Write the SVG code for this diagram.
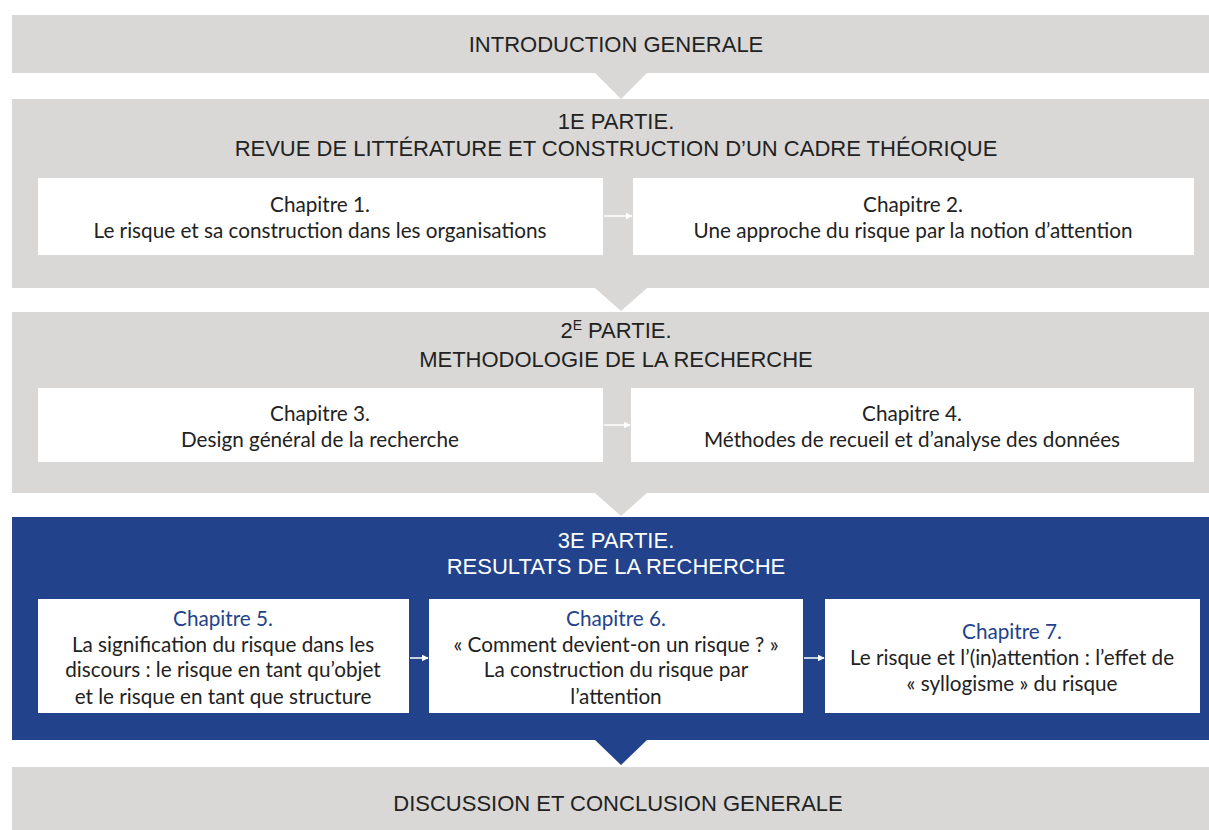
<svg xmlns="http://www.w3.org/2000/svg" width="1209" height="830" viewBox="0 0 1209 830">
<defs>
<style>
.band{fill:#d9d8d6}
.blue{fill:#22438b}
.box{fill:#ffffff}
.t{font-family:Lato,"Open Sans","Liberation Sans",sans-serif;font-size:20.7px;fill:#222;text-anchor:middle}
.h{font-family:"Liberation Sans",Arial,sans-serif;font-size:22px;fill:#222;text-anchor:middle}
.hw{fill:#ffffff}
.ct{fill:#22438b}
.conn{stroke:#ffffff;stroke-width:1.5;fill:none}
</style>
<marker id="ah" viewBox="0 0 10 10" refX="9" refY="5" markerWidth="7" markerHeight="7" orient="auto" markerUnits="userSpaceOnUse"><path d="M0,0 L10,5 L0,10 z" fill="#ffffff"/></marker>
</defs>
<rect width="1209" height="830" fill="#ffffff"/>

<g id="intro">
<rect class="band" x="12" y="15" width="1197" height="58"/>
<polygon class="band" points="595,73 647,73 621,99"/>
<text class="h" x="616" y="52">INTRODUCTION GENERALE</text>
</g>

<g id="partie1">
<rect class="band" x="12" y="99" width="1197" height="189"/>
<polygon class="band" points="595,288 647,288 621,311"/>
<text class="h" x="616" y="129">1E PARTIE.</text>
<text class="h" x="616" y="156">REVUE DE LITTÉRATURE ET CONSTRUCTION D’UN CADRE THÉORIQUE</text>
</g>
<g id="ch1">
<rect class="box" x="38" y="178" width="565" height="77"/>
<text class="t" x="320" y="212">Chapitre 1.</text>
<text class="t" x="320" y="238">Le risque et sa construction dans les organisations</text>
</g>
<g id="ch2">
<rect class="box" x="633" y="178" width="561" height="77"/>
<text class="t" x="913" y="212">Chapitre 2.</text>
<text class="t" x="913" y="238">Une approche du risque par la notion d’attention</text>
</g>

<g id="partie2">
<rect class="band" x="12" y="312" width="1197" height="181"/>
<polygon class="band" points="595,493 647,493 621,516"/>
<text class="h" x="616" y="338">2<tspan font-size="14" dy="-8">E</tspan><tspan dy="8"> PARTIE.</tspan></text>
<text class="h" x="616" y="367">METHODOLOGIE DE LA RECHERCHE</text>
</g>
<g id="ch3">
<rect class="box" x="38" y="388" width="565" height="74"/>
<text class="t" x="320" y="421">Chapitre 3.</text>
<text class="t" x="320" y="447">Design général de la recherche</text>
</g>
<g id="ch4">
<rect class="box" x="631" y="388" width="563" height="74"/>
<text class="t" x="912" y="421">Chapitre 4.</text>
<text class="t" x="912" y="447">Méthodes de recueil et d’analyse des données</text>
</g>

<g id="partie3">
<rect class="blue" x="12" y="517" width="1197" height="223"/>
<polygon class="blue" points="595,740 647,740 621,765"/>
<text class="h hw" x="616" y="548">3E PARTIE.</text>
<text class="h hw" x="616" y="574">RESULTATS DE LA RECHERCHE</text>
</g>
<g id="ch5">
<rect class="box" x="38" y="599" width="371" height="114"/>
<text class="t ct" x="223" y="626">Chapitre 5.</text>
<text class="t" x="223" y="652">La signification du risque dans les</text>
<text class="t" x="223" y="677">discours : le risque en tant qu’objet</text>
<text class="t" x="223" y="704">et le risque en tant que structure</text>
</g>
<g id="ch6">
<rect class="box" x="429" y="599" width="374" height="114"/>
<text class="t ct" x="616" y="626">Chapitre 6.</text>
<text class="t" x="616" y="652">« Comment devient-on un risque ? »</text>
<text class="t" x="616" y="677">La construction du risque par</text>
<text class="t" x="616" y="704">l’attention</text>
</g>
<g id="ch7">
<rect class="box" x="825" y="599" width="375" height="114"/>
<text class="t ct" x="1012" y="639">Chapitre 7.</text>
<text class="t" x="1012" y="665">Le risque et l’(in)attention : l’effet de</text>
<text class="t" x="1012" y="691">« syllogisme » du risque</text>
</g>

<g id="conclusion">
<rect class="band" x="12" y="767" width="1197" height="63"/>
<text class="h" x="618" y="811">DISCUSSION  ET CONCLUSION GENERALE</text>
</g>

<g id="connectors">
<line class="conn" x1="604" y1="216" x2="632" y2="216" marker-end="url(#ah)"/>
<line class="conn" x1="604" y1="425" x2="630" y2="425" marker-end="url(#ah)"/>
<line class="conn" x1="410" y1="658" x2="428" y2="658" marker-end="url(#ah)"/>
<line class="conn" x1="804" y1="658" x2="824" y2="658" marker-end="url(#ah)"/>
</g>
</svg>
